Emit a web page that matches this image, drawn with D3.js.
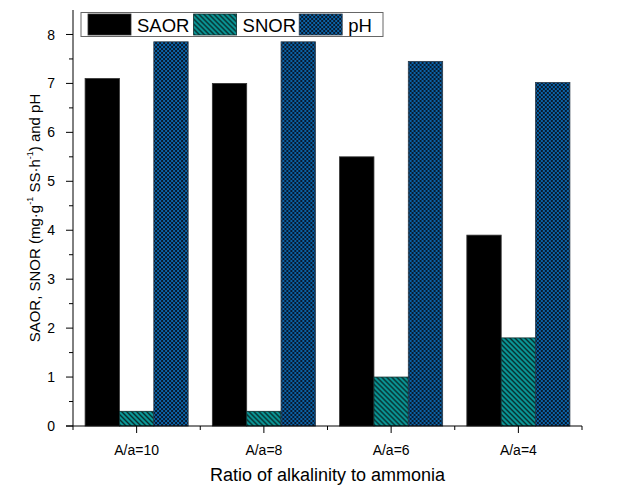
<!DOCTYPE html>
<html>
<head>
<meta charset="utf-8">
<script src="https://cdn.jsdelivr.net/npm/d3@7"></script>
<style>
  body { margin: 0; background: #fff; }
  svg { font-family: "Liberation Sans", Arial, sans-serif; }
</style>
</head>
<body>
<svg id="chart"></svg>
<script>
// Data
const categories = ["A/a=10", "A/a=8", "A/a=6", "A/a=4"];
const seriesNames = ["SAOR", "SNOR", "pH"];
const saor = [7.1, 7.0, 5.5, 3.9];
const snor = [0.3, 0.3, 1.0, 1.8];
const ph = [7.85, 7.85, 7.45, 7.02];
const yTicks = [0, 1, 2, 3, 4, 5, 6, 7, 8];

const width = 633;
const height = 488;
const margin = { top: 10, right: 51, bottom: 62, left: 73 };

const svg = d3.select("#chart")
  .attr("width", width)
  .attr("height", height);

// Patterns
const defs = svg.append("defs");
const hatch = defs.append("pattern")
  .attr("id", "hatch")
  .attr("patternUnits", "userSpaceOnUse")
  .attr("width", 5).attr("height", 5);
hatch.append("rect").attr("width", 5).attr("height", 5).attr("fill", "#0a9898");
hatch.append("path")
  .attr("d", "M0,0L5,5M-1,4L1,6M4,-1L6,1")
  .attr("stroke", "#062a2a")
  .attr("stroke-width", 1.4);

const check = defs.append("pattern")
  .attr("id", "check")
  .attr("patternUnits", "userSpaceOnUse")
  .attr("width", 4).attr("height", 4);
check.append("rect").attr("width", 4).attr("height", 4).attr("fill", "#0b62a6");
check.append("rect").attr("width", 2).attr("height", 2).attr("fill", "#081a2e");
check.append("rect").attr("x", 2).attr("y", 2).attr("width", 2).attr("height", 2).attr("fill", "#081a2e");

const fills = ["#000", "url(#hatch)", "url(#check)"];
const strokes = ["#333", "#0c2c2c", "#2a3a4a"];

// Scales
const x = d3.scaleBand()
  .domain(categories)
  .range([margin.left, width - margin.right])
  .paddingInner(0.19)
  .paddingOuter(0.095);

const band = d3.scaleBand()
  .domain(categories)
  .range([margin.left, width - margin.right]);

const xs = d3.scaleBand()
  .domain(seriesNames)
  .range([0, x.bandwidth()]);

const y = d3.scaleLinear()
  .domain([0, 8.5])
  .range([height - margin.bottom, margin.top]);

// Bars
const rows = categories.map((c, i) => ({ cat: c, vals: [saor[i], snor[i], ph[i]] }));
const groups = svg.append("g").selectAll("g")
  .data(rows)
  .join("g")
  .attr("transform", d => `translate(${x(d.cat)},0)`);

groups.selectAll("rect")
  .data(d => d.vals.map((v, j) => ({ name: seriesNames[j], v: v, j: j })))
  .join("rect")
  .attr("x", d => xs(d.name))
  .attr("width", xs.bandwidth())
  .attr("y", d => y(d.v))
  .attr("height", d => y(0) - y(d.v))
  .attr("fill", d => fills[d.j])
  .attr("stroke", d => strokes[d.j])
  .attr("stroke-width", 0.8);

// Y axis
const yAxis = svg.append("g")
  .attr("transform", `translate(${margin.left},0)`);
yAxis.append("line")
  .attr("y1", y(8.5)).attr("y2", y(0))
  .attr("stroke", "#000");
yAxis.selectAll(".minor")
  .data(d3.range(0.5, 8.5, 1))
  .join("line")
  .attr("x1", -4).attr("x2", 0)
  .attr("y1", d => y(d)).attr("y2", d => y(d))
  .attr("stroke", "#000");
yAxis.selectAll(".major")
  .data(yTicks)
  .join("line")
  .attr("x1", -7).attr("x2", 0)
  .attr("y1", d => y(d)).attr("y2", d => y(d))
  .attr("stroke", "#000");
yAxis.selectAll("text")
  .data(yTicks)
  .join("text")
  .attr("x", -18)
  .attr("y", d => y(d))
  .attr("dy", "0.36em")
  .attr("text-anchor", "end")
  .attr("font-size", 14)
  .text(d => d);

// X axis
const xAxis = svg.append("g")
  .attr("transform", `translate(0,${y(0)})`);
xAxis.append("line")
  .attr("x1", margin.left - 7).attr("x2", width - margin.right)
  .attr("stroke", "#000");
const bounds = categories.map(c => band(c)).concat([width - margin.right]);
xAxis.selectAll(".minor")
  .data(bounds)
  .join("line")
  .attr("x1", d => d).attr("x2", d => d)
  .attr("y1", 0).attr("y2", 4)
  .attr("stroke", "#000");
xAxis.selectAll(".major")
  .data(categories)
  .join("line")
  .attr("x1", d => band(d) + band.bandwidth() / 2)
  .attr("x2", d => band(d) + band.bandwidth() / 2)
  .attr("y1", 0).attr("y2", 7)
  .attr("stroke", "#000");
xAxis.selectAll("text")
  .data(categories)
  .join("text")
  .attr("x", d => band(d) + band.bandwidth() / 2)
  .attr("y", 29)
  .attr("text-anchor", "middle")
  .attr("font-size", 14)
  .text(d => d);

// Axis titles
svg.append("text")
  .attr("x", (margin.left + width - margin.right) / 2)
  .attr("y", 481)
  .attr("text-anchor", "middle")
  .attr("font-size", 18)
  .text("Ratio of alkalinity to ammonia");

const yTitle = svg.append("text")
  .attr("transform", `translate(40,${(y(0) + y(8.5)) / 2}) rotate(-90)`)
  .attr("text-anchor", "middle")
  .attr("font-size", 15);
yTitle.append("tspan").text("SAOR, SNOR (mg·g");
yTitle.append("tspan").attr("font-size", 9).attr("dy", -7).text("-1");
yTitle.append("tspan").attr("dy", 7).text(" SS·h");
yTitle.append("tspan").attr("font-size", 9).attr("dy", -7).text("-1");
yTitle.append("tspan").attr("dy", 7).text(") and pH");

// Legend
const legend = svg.append("g");
legend.append("rect")
  .attr("x", 81).attr("y", 12.5)
  .attr("width", 302).attr("height", 24)
  .attr("fill", "#fff")
  .attr("stroke", "#666");
const items = legend.selectAll("g")
  .data(seriesNames)
  .join("g")
  .attr("transform", (d, i) => `translate(${88 + i * 105.6},14)`);
items.append("rect")
  .attr("width", 43).attr("height", 21)
  .attr("fill", (d, i) => fills[i])
  .attr("stroke", (d, i) => strokes[i])
  .attr("stroke-width", 0.8);
items.append("text")
  .attr("x", 49).attr("y", 17.5)
  .attr("font-size", 18.5)
  .text(d => d);
</script>
</body>
</html>
